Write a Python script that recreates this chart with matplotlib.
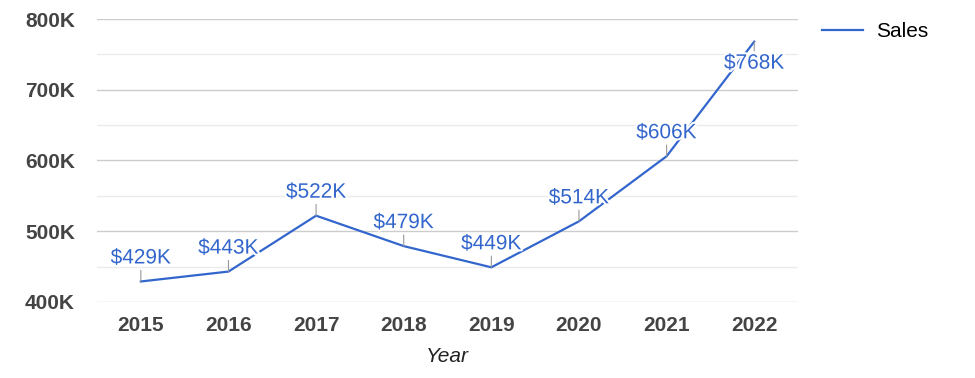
import matplotlib.pyplot as plt
import matplotlib.patheffects as pe
from matplotlib.ticker import MultipleLocator, FuncFormatter

plt.rcParams['font.family'] = ['Liberation Sans', 'DejaVu Sans']

years = ['2015', '2016', '2017', '2018', '2019', '2020', '2021', '2022']
sales = [429, 443, 522, 479, 449, 514, 606, 768]  # thousands
labels = ['$429K', '$443K', '$522K', '$479K', '$449K', '$514K', '$606K', '$768K']

BLUE = '#3366cc'

fig = plt.figure(figsize=(9.75, 3.78), dpi=100)
ax = fig.add_axes([0.0995, 0.2011, 0.7190, 0.7486])

x = list(range(len(years)))
ax.plot(x, sales, color=BLUE, lw=1.6, label='Sales', zorder=3)

ax.set_xlim(-0.5, len(years) - 0.5)
ax.set_ylim(400, 800)
ax.yaxis.set_major_locator(MultipleLocator(100))
ax.yaxis.set_minor_locator(MultipleLocator(50))
ax.yaxis.set_major_formatter(FuncFormatter(lambda v, p: f'{int(v)}K'))
ax.grid(which='major', axis='y', color='#cccccc', lw=1)
ax.grid(which='minor', axis='y', color='#ebebeb', lw=1)
ax.set_axisbelow(True)
for s in ax.spines.values():
    s.set_visible(False)
ax.tick_params(which='both', length=0)
ax.tick_params(axis='y', pad=16)
ax.tick_params(axis='x', pad=10)
ax.set_xticks(x)
ax.set_xticklabels(years)
for t in ax.get_xticklabels() + ax.get_yticklabels():
    t.set_fontsize(15)
    t.set_fontweight('bold')
    t.set_color('#444444')

ax.set_xlabel('Year', fontsize=15, style='italic', color='#222222', labelpad=9)

halo = [pe.withStroke(linewidth=3, foreground='white')]
for xi, yi, lab in zip(x, sales, labels):
    # the top label would run out of the plot, so it goes below
    below = yi > 740
    off = -12 if below else 14
    ax.annotate(lab, (xi, yi), xytext=(0, off), textcoords='offset pixels',
                ha='center', va='top' if below else 'bottom',
                fontsize=15, color=BLUE, path_effects=halo, zorder=4,
                arrowprops=dict(arrowstyle='-', color='#999999', lw=0.8,
                                shrinkA=0, shrinkB=0,
                                relpos=(0.5, 1.0 if below else 0.0)))

ax.legend(loc='upper left', bbox_to_anchor=(0.835, 0.964),
          bbox_transform=fig.transFigure, frameon=False, fontsize=15,
          handlelength=1.95, handletextpad=0.6, borderaxespad=0)

fig.savefig('out.png', dpi=100)
